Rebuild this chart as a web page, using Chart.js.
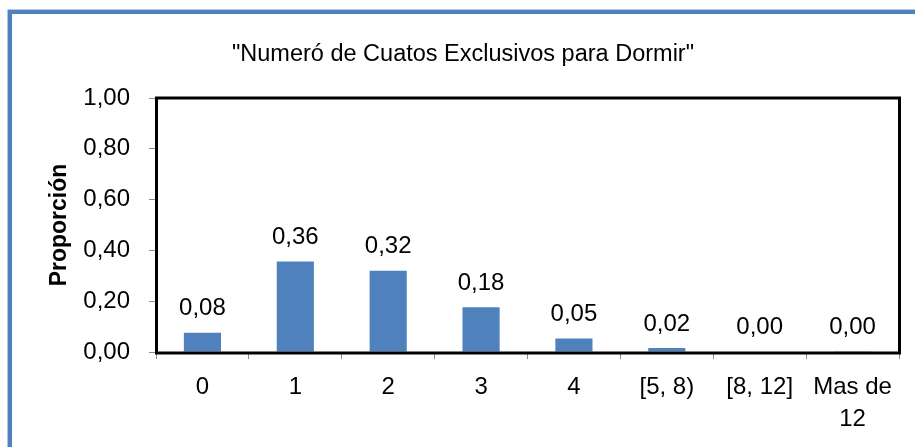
<!DOCTYPE html>
<html>
<head>
<meta charset="utf-8">
<script src="https://cdn.jsdelivr.net/npm/chart.js@4/dist/chart.umd.min.js"></script>
<style>
html,body{margin:0;padding:0;background:#fff;}
canvas{display:block;}
</style>
</head>
<body>
<canvas id="c" width="915" height="447"></canvas>
<script>
const titleText = '"Numeró de Cuatos Exclusivos para Dormir"';
const yAxisTitle = 'Proporción';
const categories = ['0', '1', '2', '3', '4', '[5, 8)', '[8, 12]', ['Mas de', '12']];
const proportions = [0.076, 0.356, 0.32, 0.176, 0.053, 0.016, 0.002, 0.001];
const yTicks = [0, 0.2, 0.4, 0.6, 0.8, 1.0];

const fmt = v => v.toFixed(2).replace('.', ',');
const FAMILY = '"Liberation Sans", Arial, sans-serif';

Chart.defaults.font.family = FAMILY;
Chart.defaults.color = '#000';

const frameAndLabels = {
  id: 'frameAndLabels',
  beforeDraw(chart) {
    const ctx = chart.ctx;
    ctx.save();
    ctx.fillStyle = '#fff';
    ctx.fillRect(0, 0, chart.width, chart.height);
    ctx.strokeStyle = '#4F81BD';
    ctx.lineWidth = 4.5;
    ctx.strokeRect(9.8, 11.8, chart.width + 50, chart.height + 50);
    ctx.fillStyle = '#000';
    ctx.font = '23.5px ' + FAMILY;
    ctx.textAlign = 'center';
    ctx.textBaseline = 'alphabetic';
    ctx.fillText(titleText, 463, 60.5);
    ctx.restore();
  },
  afterDatasetsDraw(chart) {
    const ctx = chart.ctx;
    const a = chart.chartArea;
    ctx.save();
    ctx.strokeStyle = '#000';
    ctx.lineWidth = 3;
    ctx.strokeRect(a.left + 0.5, a.top, a.right - a.left, a.bottom - a.top + 1);
    const meta = chart.getDatasetMeta(0);
    ctx.fillStyle = '#000';
    ctx.font = '24px ' + FAMILY;
    ctx.textAlign = 'center';
    ctx.textBaseline = 'alphabetic';
    meta.data.forEach((bar, i) => {
      ctx.fillText(fmt(proportions[i]), bar.x, bar.y - 17.4);
    });
    ctx.restore();
  }
};

new Chart(document.getElementById('c'), {
  type: 'bar',
  data: {
    labels: categories,
    datasets: [{
      data: proportions,
      backgroundColor: '#4F81BD',
      borderWidth: 0,
      categoryPercentage: 1,
      barPercentage: 0.4
    }]
  },
  options: {
    responsive: false,
    animation: false,
    devicePixelRatio: 1,
    layout: { padding: { left: 0, right: 16, top: 98, bottom: 0 } },
    plugins: {
      legend: { display: false },
      tooltip: { enabled: false },
      title: { display: false }
    },
    scales: {
      x: {
        grid: { display: true, drawOnChartArea: false, drawTicks: true, tickLength: 7, color: '#8c8c8c', offset: true },
        border: { display: false },
        ticks: { font: { size: 24, lineHeight: 1.31 }, color: '#000', padding: 12.75, maxRotation: 0, autoSkip: false },
        afterFit(scale) { scale.height = 95; }
      },
      y: {
        min: 0,
        max: 1,
        afterBuildTicks(scale) { scale.ticks = yTicks.map(v => ({ value: v })); },
        grid: { display: true, drawOnChartArea: false, drawTicks: true, tickLength: 7, color: '#8c8c8c' },
        border: { display: false },
        ticks: { font: { size: 24 }, color: '#000', padding: 19, callback: v => fmt(v) },
        title: {
          display: true,
          text: yAxisTitle,
          font: { size: 23, weight: 'bold', lineHeight: 1.2 },
          color: '#000',
          padding: { top: 46, bottom: 0 }
        },
        afterFit(scale) { scale.width = 156; }
      }
    }
  },
  plugins: [frameAndLabels]
});
</script>
</body>
</html>
